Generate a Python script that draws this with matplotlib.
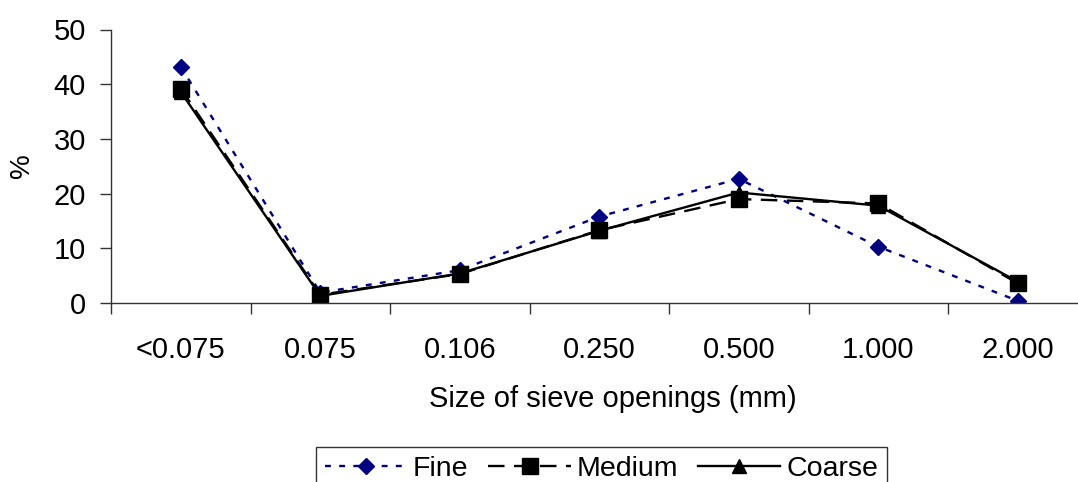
import numpy as np
import matplotlib.pyplot as plt

plt.rcParams['font.family'] = ['Liberation Sans', 'DejaVu Sans']

# sieve fractions, % retained
sizes = ['<0.075', '0.075', '0.106', '0.250', '0.500', '1.000', '2.000']
fine = [43.2, 1.9, 6.0, 15.8, 22.7, 10.3, 0.4]
medium = [39.2, 1.5, 5.3, 13.3, 19.0, 18.2, 3.6]
coarse = [38.6, 1.3, 5.4, 13.2, 20.2, 17.8, 3.9]

x = np.arange(len(sizes))

fig = plt.figure(figsize=(10.78, 4.82), dpi=100)
ax = fig.add_axes([111/1078, 1 - 303/482, 976.5/1078, 273.5/482])

ax.plot(x, fine, color='#000080', ls=(0, (2.5, 3.5)), lw=1.7, marker='D', ms=8.2,
        label='Fine')
ax.plot(x, medium, color='black', ls=(0, (7, 4)), lw=1.7, marker='s', ms=11.5,
        label='Medium')
ax.plot(x, coarse, color='black', ls='-', lw=1.7, marker='^', ms=10,
        label='Coarse')

ax.set_xlim(-0.5, len(sizes) - 0.5)
ax.set_ylim(0, 50)
ax.set_yticks([0, 10, 20, 30, 40, 50])
ax.set_xticks(x)
ax.set_xticklabels(sizes)
ax.set_xticks(np.arange(len(sizes) + 1) - 0.5, minor=True)
ax.tick_params(axis='x', which='major', length=0, pad=24, labelsize=21)
ax.tick_params(axis='x', which='minor', length=8, width=1, color='#333333')
ax.tick_params(axis='y', length=8, width=1, color='#333333', labelsize=21, pad=10)
for s in ['top', 'right']:
    ax.spines[s].set_visible(False)
for s in ['left', 'bottom']:
    ax.spines[s].set_linewidth(1)
    ax.spines[s].set_color('#333333')

ax.set_xlabel('Size of sieve openings (mm)', fontsize=21)
ax.xaxis.set_label_coords(0.514, -0.30)
fig.text(22/1078, 1 - 166/482, '%', rotation=90, fontsize=20,
         ha='center', va='center')

leg = fig.legend(loc='upper left', bbox_to_anchor=(316/1078, 1 - 447/482),
                 ncol=3, fontsize=20.5, frameon=True, fancybox=False,
                 edgecolor='black', handlelength=2.9, columnspacing=0.7,
                 handletextpad=0.2, borderpad=0.3, borderaxespad=0,
                 markerscale=1.0)
leg.get_frame().set_linewidth(1)

fig.savefig('out.png', dpi=100)
